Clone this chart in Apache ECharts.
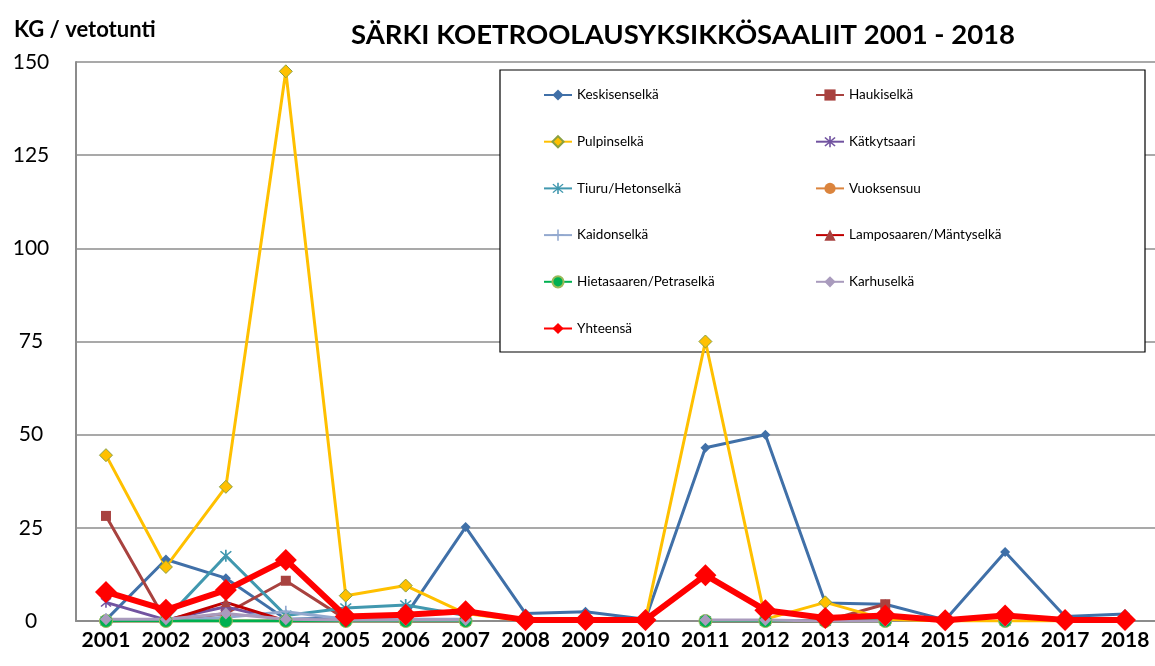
<!DOCTYPE html>
<html>
<head>
<meta charset="utf-8">
<script src="https://cdn.jsdelivr.net/npm/echarts@6/dist/echarts.min.js"></script>
<style>
  html, body { margin: 0; padding: 0; background: #fff; }
  #main { width: 1155px; height: 666px; }
</style>
</head>
<body>
<div id="main"></div>
<script>
// vuodet
var years = ['2001','2002','2003','2004','2005','2006','2007','2008','2009','2010','2011','2012','2013','2014','2015','2016','2017','2018'];
var yTicks = [0, 25, 50, 75, 100, 125, 150];

// KG / vetotunti, alueittain
var keskisenselka = [0.3, 16.5, 11.5, 0.5, 0.8, 1.5, 25.2, 2, 2.5, 0.5, 46.5, 50, 4.8, 4.5, 0.3, 18.5, 1.2, 1.9];
var haukiselka = [28.2, 0, 2, 10.8, 0.5, 0, 0, null, null, null, 0, 0, 0, 4.5, null, 0, null, null];
var pulpinselka = [44.5, 14.5, 36, 147.5, 6.8, 9.5, 2, 0, 0, 0.5, 75, 0.5, 5, 0.5, 0, 0, 0, 0];
var katkytsaari = [5, 0.3, 3.8, 0, 0, 0, 0, null, null, null, 0, 0, 0, 1, null, 0, null, null];
var tiuru = [0, 0.5, 17.5, 1.5, 3.5, 4.3, 1.5, null, null, null, 0, 0, 0, 0, null, 0, null, null];
var vuoksensuu = [0, 0, 0, 0, 0, 0, 0, null, null, null, 0, 0, 0, 0, null, 0, null, null];
var kaidonselka = [0.5, 0, 1, 2.5, 0.5, 0.5, 0.5, null, null, null, 0, 0, 0, 0, null, 0, null, null];
var lamposaari = [0, 0, 5, 0, 0, 0, 0, null, null, null, 0, 0, 0, 0, null, 0, null, null];
var hietasaari = [0, 0, 0, 0, 0, 0, 0, null, null, null, 0, 0, 0, 0, null, 0, null, null];
var karhuselka = [0.5, 0.5, 2, 0.5, 0.3, 0.3, 0.3, null, null, null, 0.3, 0.3, 0, 0, null, 0, null, null];
var yhteensa = [7.8, 3, 8.3, 16.4, 1.2, 1.7, 2.6, 0.3, 0.3, 0.3, 12.3, 2.9, 0.8, 1.5, 0.2, 1.5, 0.3, 0.3];

var starPath = 'path://M4.4,0L5.6,0L5.6,10L4.4,10Z M0.8,1.6L1.6,0.8L9.2,8.4L8.4,9.2Z M8.4,0.8L9.2,1.6L1.6,9.2L0.8,8.4Z';
var plusPath = 'path://M4.3,0L5.7,0L5.7,10L4.3,10Z M0,4.3L10,4.3L10,5.7L0,5.7Z';

function sarja(name, data, color, symbol, size, lw, extra) {
    var s = {
        name: name,
        type: 'line',
        data: data,
        symbol: symbol,
        symbolSize: size,
        connectNulls: false,
        lineStyle: { color: color, width: lw },
        itemStyle: { color: color },
        emphasis: { disabled: true }
    };
    if (extra) {
        for (var k in extra) s[k] = extra[k];
    }
    return s;
}

var myChart = echarts.init(document.getElementById('main'));
var font = 'Lato, "Open Sans", sans-serif';

var legendText = { fontSize: 13.5, color: '#000', fontFamily: font, lineHeight: 14 };

var option = {
    backgroundColor: '#fff',
    animation: false,
    textStyle: { fontFamily: font },
    title: [
        {
            text: 'SÄRKI KOETROOLAUSYKSIKKÖSAALIIT 2001 - 2018',
            left: 678, top: 16, textAlign: 'center',
            textStyle: { fontSize: 27.5, fontWeight: 'bold', color: '#000', fontFamily: font }
        },
        {
            text: 'KG / vetotunti',
            left: 9, top: 14,
            textStyle: { fontSize: 22, fontWeight: 'bold', color: '#000', fontFamily: font }
        }
    ],
    grid: { left: 76, right: 0, top: 62, bottom: 45 },
    xAxis: {
        type: 'category',
        data: years,
        boundaryGap: true,
        axisLine: { lineStyle: { color: '#8c8c8c', width: 2 } },
        axisTick: { show: false },
        axisLabel: { color: '#000', fontSize: 21, fontWeight: 'bold', margin: 9, fontFamily: font, interval: 0 }
    },
    yAxis: {
        type: 'value',
        min: 0, max: 150, interval: 25,
        axisLine: { show: true, lineStyle: { color: '#8c8c8c', width: 2 } },
        axisTick: { show: false },
        splitLine: { lineStyle: { color: '#8c8c8c', width: 1.5 } },
        axisLabel: {
            color: '#000', fontSize: 21, margin: 45, align: 'center', fontFamily: font,
            formatter: function (v) { return yTicks.indexOf(v) >= 0 ? String(v) : ''; }
        }
    },
    legend: [
        {
            left: 543, top: 88, padding: 0, orient: 'vertical', itemGap: 32.7, itemWidth: 28, itemHeight: 14,
            textStyle: legendText,
            data: ['Keskisenselkä', 'Pulpinselkä', 'Tiuru/Hetonselkä', 'Kaidonselkä', 'Hietasaaren/Petraselkä', 'Yhteensä']
        },
        {
            left: 815, top: 88, padding: 0, orient: 'vertical', itemGap: 32.7, itemWidth: 28, itemHeight: 14,
            textStyle: legendText,
            data: ['Haukiselkä', 'Kätkytsaari', 'Vuoksensuu', 'Lamposaaren/Mäntyselkä', 'Karhuselkä']
        }
    ],
    graphic: [
        {
            type: 'rect', z: 1,
            shape: { x: 500, y: 70, width: 645, height: 282 },
            style: { fill: '#fff', stroke: '#000', lineWidth: 1.2 }
        }
    ],
    series: [
        sarja('Keskisenselkä', keskisenselka, '#4070A8', 'diamond', 10, 3),
        sarja('Haukiselkä', haukiselka, '#A8423F', 'rect', 10, 3),
        sarja('Pulpinselkä', pulpinselka, '#FFC000', 'diamond', 13, 3,
            { itemStyle: { color: '#FFC000', borderColor: '#8AA040', borderWidth: 1 } }),
        sarja('Kätkytsaari', katkytsaari, '#7153A0', starPath, 11, 3),
        sarja('Tiuru/Hetonselkä', tiuru, '#4198AF', starPath, 12, 3),
        sarja('Vuoksensuu', vuoksensuu, '#DB843D', 'circle', 10, 3),
        sarja('Kaidonselkä', kaidonselka, '#93A9CF', plusPath, 12, 3),
        sarja('Lamposaaren/Mäntyselkä', lamposaari, '#C00000', 'triangle', 10, 3,
            { itemStyle: { color: '#A8423F' } }),
        sarja('Hietasaaren/Petraselkä', hietasaari, '#00B050', 'circle', 13, 3,
            { itemStyle: { color: '#00B050', borderColor: '#9BBB59', borderWidth: 1 } }),
        sarja('Karhuselkä', karhuselka, '#A99BBD', 'diamond', 12, 3),
        sarja('Yhteensä', yhteensa, '#FF0000', 'diamond', 22, 6)
    ]
};

myChart.setOption(option);
</script>
</body>
</html>
